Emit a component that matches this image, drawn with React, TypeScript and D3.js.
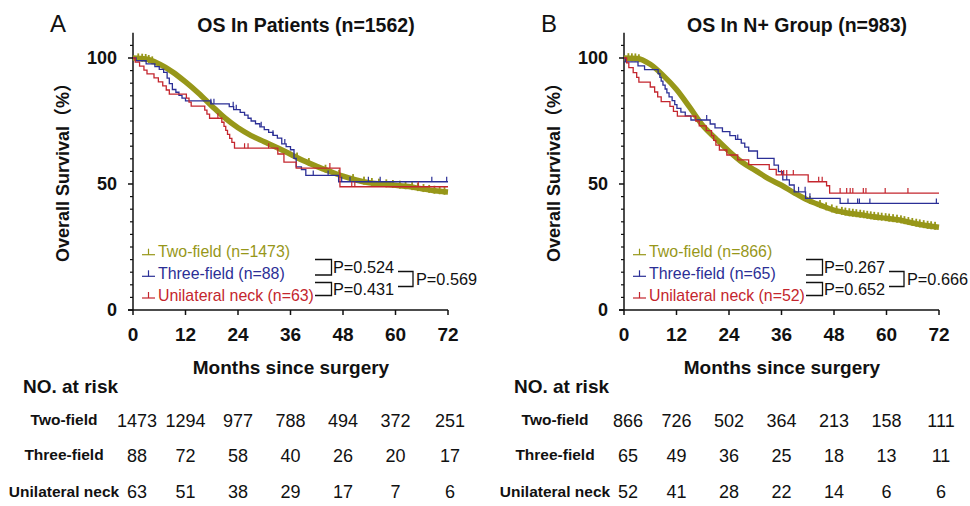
import React from "react";
import * as d3 from "d3";

type Pt = [number, number];

const months = [0, 12, 24, 36, 48, 60, 72];
const yMajor = [0, 50, 100];
const riskLabels = ["Two-field", "Three-field", "Unilateral neck"];

// ---- panel A : all patients ----
const twoFieldA: Pt[] = [
  [0, 100], [3, 99.6], [6, 97.6], [9, 94.5], [12, 90.5], [15, 86], [18, 81], [21, 76.2],
  [24, 72.3], [27, 69.2], [30, 66.8], [33, 64.4], [36, 61.8], [39, 59.2], [42, 57], [45, 55],
  [48, 53.1], [51, 51.6], [54, 50.5], [57, 50], [60, 49.5], [63, 49], [66, 48.1], [69, 47.3], [72, 46.8],
];
const threeFieldA: Pt[] = [
  [0, 100], [0.7, 98.9], [3, 97.7], [5, 96.6], [6, 95.5], [7, 94.3], [7.8, 92], [8.3, 89.8],
  [9, 87.5], [9.8, 86.4], [10.5, 85.2], [11.2, 84.1], [12, 83], [17.8, 81.8], [22, 80.7],
  [23, 79.5], [24.5, 78.4], [25.5, 77.3], [26.3, 76.1], [27, 75], [28, 73.9], [29, 72.7],
  [30, 71.6], [31, 70.5], [32, 69.3], [33, 68.2], [34, 65.9], [35, 64.8], [36, 63.6],
  [36.8, 60.2], [37.3, 56.8], [38.5, 55.7], [39.5, 53.4], [47, 50.9], [72, 50.9],
];
const unilateralA: Pt[] = [
  [0, 100], [0.5, 98.4], [1.5, 96.8], [2.5, 95.2], [3.2, 93.7], [4.8, 92.1], [5.8, 90.5],
  [6.8, 88.9], [7.6, 87.3], [8.3, 85.7], [12.2, 84.1], [12.8, 82.5], [13.3, 80.9], [16.4, 79.3],
  [16.9, 77.7], [17.5, 76.1], [20.3, 74.5], [20.8, 72.9], [21.2, 71.3], [21.6, 69.7], [22.1, 68.1],
  [22.6, 66.5], [23.2, 64.2], [33.1, 61.9], [34.5, 58.7], [37.3, 56.3], [47.3, 48.9], [72, 48.9],
];
const censorTwoA = [1.2, 2.1, 2.9, 3.6, 4.4, 37.5, 40.2, 44, 47.1, 50.3, 52.8, 54.6, 56.2, 57.9, 59.4, 61, 62.3, 63.8, 65.1, 66.4, 67.7, 68.9, 70.1, 71.2];
const censorThreeA = [17.8, 18.5, 22.9, 23.6, 29.3, 32, 34.7, 41.2, 44.6, 47.7, 49.6, 53.8, 56.5, 68.3, 71.7];
const censorUniA = [19.4, 25.5, 26.3, 31, 45, 50, 50.7, 65.2];
const legendA = ["Two-field (n=1473)", "Three-field (n=88)", "Unilateral neck (n=63)"];
const pA = ["P=0.524", "P=0.431", "P=0.569"];
const riskA = [
  [1473, 1294, 977, 788, 494, 372, 251],
  [88, 72, 58, 40, 26, 20, 17],
  [63, 51, 38, 29, 17, 7, 6],
];

// ---- panel B : N+ group ----
const twoFieldB: Pt[] = [
  [0, 100], [3, 99.8], [6, 97.5], [9, 93], [12, 87.5], [15, 80.5], [18, 73.2], [21, 68], [24, 63],
  [27, 58.6], [30, 55.4], [33, 52.1], [36, 49.5], [39, 46.4], [42, 43.6], [45, 41.5], [48, 39.6],
  [51, 38.5], [54, 37.8], [57, 37], [60, 36.4], [63, 35.7], [66, 34.5], [69, 33.5], [72, 32.8],
];
const threeFieldB: Pt[] = [
  [0, 100], [0.3, 98.5], [3.2, 96.9], [4.7, 95.4], [7.8, 93.8], [8.2, 92.3], [8.5, 90.8], [8.9, 89.2],
  [9.4, 87.7], [9.8, 86.2], [10.3, 84.6], [11, 83.1], [11.6, 81.5], [12.1, 80], [13, 78.5], [14, 77],
  [15.3, 75.4], [19.7, 73.8], [20.8, 72.3], [22.5, 70.8], [24.2, 69.2], [25.5, 67.7], [26.8, 66.2],
  [27.6, 64.6], [28.5, 63.1], [30.5, 60.2], [34.3, 57.5], [35.3, 54.9], [36.3, 51.6], [37.8, 49.6],
  [38.9, 46.9], [41.5, 44.3], [49.4, 42.3], [72, 42.3],
];
const unilateralB: Pt[] = [
  [0, 100], [0.6, 98.1], [1.1, 96.2], [2.1, 94.2], [2.9, 92.3], [3.4, 90.4], [6, 88.5], [7, 86.5],
  [7.7, 84.6], [8.5, 82.7], [10.5, 80.8], [11.3, 78.8], [12.2, 76.9], [16.4, 75], [17.2, 73.1],
  [18.8, 71.2], [20, 69.2], [20.5, 67.3], [21, 65.4], [21.8, 63.5], [23.5, 61.5], [26, 59.6],
  [28.5, 57.7], [33.2, 55.8], [34.8, 53.6], [42.1, 50.9], [46.3, 49.3], [47, 46.4], [72, 46.4],
];
const censorTwoB = [1, 1.8, 2.6, 3.4, 42.5, 44.8, 46.2, 47.5, 48.6, 49.8, 50.6, 51.5, 52.3, 53.1, 54, 54.8, 55.6, 56.4, 57.2, 58.1, 58.9, 59.8, 60.6, 61.5, 62.4, 63.3, 64.1, 65, 65.9, 66.8, 67.6, 68.5, 69.4, 70.2, 71.1];
const censorThreeB = [18.9, 26, 37.2, 39.9, 41.4, 42.5, 51.2, 53.4, 53.8, 56.2, 71.4];
const censorUniB = [36, 36.5, 37.2, 38.7, 44.5, 45.3, 49.4, 50.9, 51.7, 52.3, 54.7, 55.3, 59.7, 64.9];
const legendB = ["Two-field (n=866)", "Three-field (n=65)", "Unilateral neck (n=52)"];
const pB = ["P=0.267", "P=0.652", "P=0.666"];
const riskB = [
  [866, 726, 502, 364, 213, 158, 111],
  [65, 49, 36, 25, 18, 13, 11],
  [52, 41, 28, 22, 14, 6, 6],
];

const OLIVE = "#979719";
const BLUE = "#2b2f96";
const RED = "#c4262e";
const INK = "#111";
const FONT = "Arial, 'Liberation Sans', 'Noto Sans CJK SC', sans-serif";

function stepAt(s: Pt[], t: number) {
  let v = s[0][1];
  for (const p of s) if (p[0] <= t) v = p[1];
  return v;
}
function linAt(s: Pt[], t: number) {
  for (let i = 1; i < s.length; i++) {
    if (s[i][0] >= t) {
      const [t0, v0] = s[i - 1], [t1, v1] = s[i];
      return v0 + ((t - t0) / (t1 - t0)) * (v1 - v0);
    }
  }
  return s[s.length - 1][1];
}

interface PanelProps {
  ax: number;
  letter: string;
  title: string;
  two: Pt[]; three: Pt[]; uni: Pt[];
  cTwo: number[]; cThree: number[]; cUni: number[];
  legend: string[]; pvals: string[]; risk: number[][];
}

function Panel(p: PanelProps) {
  const ax = p.ax;
  const x = d3.scaleLinear().domain([0, 72]).range([ax, ax + 315]);
  const y = d3.scaleLinear().domain([0, 110]).range([310, 32.8]);
  const step = d3.line<Pt>().x(d => x(d[0])).y(d => y(d[1])).curve(d3.curveStepAfter);
  const smooth = d3.line<Pt>().x(d => x(d[0])).y(d => y(d[1])).curve(d3.curveMonotoneX);
  const minor = d3.range(5, 110, 5).filter(v => v % 50 !== 0);
  const colors = [OLIVE, BLUE, RED];
  const legY = [251.7, 273.3, 295];

  const bracket = (x0: number, x1: number, y0: number, y1: number) =>
    `M${x0},${y0}H${x1}V${y1}H${x0}`;

  return (
    <g fontFamily={FONT}>
      <text x={ax - 83} y={32} fontSize={24} fill={INK}>{p.letter}</text>
      <text x={ax + 173} y={31.5} fontSize={19.5} fontWeight="bold" textAnchor="middle" fill={INK}>{p.title}</text>

      {/* y axis */}
      <line x1={ax} x2={ax} y1={y(110)} y2={310} stroke={INK} strokeWidth={1.5} />
      {yMajor.map(v => (
        <g key={v}>
          <line x1={ax - 5} x2={ax} y1={y(v)} y2={y(v)} stroke={INK} strokeWidth={1.5} />
          <text x={ax - 16} y={y(v)} dy="0.35em" fontSize={18} fontWeight="bold" textAnchor="end" fill={INK}>{v}</text>
        </g>
      ))}
      {minor.map(v => (
        <line key={v} x1={ax - 3} x2={ax} y1={y(v)} y2={y(v)} stroke={INK} strokeWidth={1.2} />
      ))}
      <text transform={`translate(${ax - 64},168) rotate(-90)`} fontSize={18} fontWeight="bold" textAnchor="middle" fill={INK}>
        Overall Survival（%）
      </text>

      {/* x axis */}
      <line x1={ax - 5} x2={x(72)} y1={310} y2={310} stroke={INK} strokeWidth={1.5} />
      {months.map(m => (
        <g key={m}>
          <line x1={x(m)} x2={x(m)} y1={310} y2={315} stroke={INK} strokeWidth={1.5} />
          <text x={x(m)} y={341} fontSize={19} fontWeight="bold" textAnchor="middle" fill={INK}>{m}</text>
        </g>
      ))}
      <text x={ax + 158} y={374} fontSize={19} fontWeight="bold" textAnchor="middle" fill={INK}>Months since surgery</text>

      {/* curves */}
      <path d={smooth(p.two) || ""} fill="none" stroke={OLIVE} strokeWidth={5.5} />
      {p.cTwo.map((t, i) => (
        <rect key={i} x={x(t) - 0.9} y={y(linAt(p.two, t)) - 5} width={1.8} height={8} fill={OLIVE} />
      ))}
      <path d={step(p.three) || ""} fill="none" stroke={BLUE} strokeWidth={1.3} />
      {p.cThree.map((t, i) => (
        <line key={i} x1={x(t)} x2={x(t)} y1={y(stepAt(p.three, t))} y2={y(stepAt(p.three, t)) - 5} stroke={BLUE} strokeWidth={1.2} />
      ))}
      <path d={step(p.uni) || ""} fill="none" stroke={RED} strokeWidth={1.3} />
      {p.cUni.map((t, i) => (
        <line key={i} x1={x(t)} x2={x(t)} y1={y(stepAt(p.uni, t))} y2={y(stepAt(p.uni, t)) - 5} stroke={RED} strokeWidth={1.2} />
      ))}

      {/* legend */}
      {p.legend.map((s, i) => (
        <g key={s}>
          <line x1={ax + 9} x2={ax + 22} y1={legY[i] + 3} y2={legY[i] + 3} stroke={colors[i]} strokeWidth={1.2} />
          <line x1={ax + 15.5} x2={ax + 15.5} y1={legY[i] + 3} y2={legY[i] - 3} stroke={colors[i]} strokeWidth={1.2} />
          <text x={ax + 25} y={legY[i]} dy="0.35em" fontSize={15.9} fill={colors[i]}>{s}</text>
        </g>
      ))}

      {/* p-value brackets */}
      <path d={bracket(ax + 182, ax + 198.5, 259.5, 275)} fill="none" stroke={INK} strokeWidth={1.3} />
      <path d={bracket(ax + 182, ax + 198.5, 282.5, 295.5)} fill="none" stroke={INK} strokeWidth={1.3} />
      <path d={bracket(ax + 265, ax + 280, 271.5, 286.5)} fill="none" stroke={INK} strokeWidth={1.3} />
      <text x={ax + 200} y={267} dy="0.35em" fontSize={16.3} fill={INK}>{p.pvals[0]}</text>
      <text x={ax + 200} y={289} dy="0.35em" fontSize={16.3} fill={INK}>{p.pvals[1]}</text>
      <text x={ax + 283} y={279} dy="0.35em" fontSize={16.3} fill={INK}>{p.pvals[2]}</text>

      {/* numbers at risk */}
      <text x={ax - 110} y={393} fontSize={19} fontWeight="bold" fill={INK}>NO. at risk</text>
      {riskLabels.map((lab, r) => (
        <g key={lab}>
          <text x={ax - 69} y={[425, 460, 496.5][r]} fontSize={15.5} fontWeight="bold" textAnchor="middle" fill={INK}>{lab}</text>
          {p.risk[r].map((n, c) => (
            <text key={c} x={x(months[c]) + (c === 0 ? 4 : c === 6 ? 2 : 0)} y={[427, 462, 498][r]} fontSize={18} textAnchor="middle" fill={INK}>{n}</text>
          ))}
        </g>
      ))}
    </g>
  );
}

export default function App() {
  return (
    <div style={{ position: "absolute", left: 0, top: 0 }}>
      <svg width={970} height={506} style={{ display: "block", background: "#fff" }}>
        <Panel ax={133} letter="A" title="OS In Patients (n=1562)"
          two={twoFieldA} three={threeFieldA} uni={unilateralA}
          cTwo={censorTwoA} cThree={censorThreeA} cUni={censorUniA}
          legend={legendA} pvals={pA} risk={riskA} />
        <Panel ax={624} letter="B" title="OS In N+ Group (n=983)"
          two={twoFieldB} three={threeFieldB} uni={unilateralB}
          cTwo={censorTwoB} cThree={censorThreeB} cUni={censorUniB}
          legend={legendB} pvals={pB} risk={riskB} />
      </svg>
    </div>
  );
}
